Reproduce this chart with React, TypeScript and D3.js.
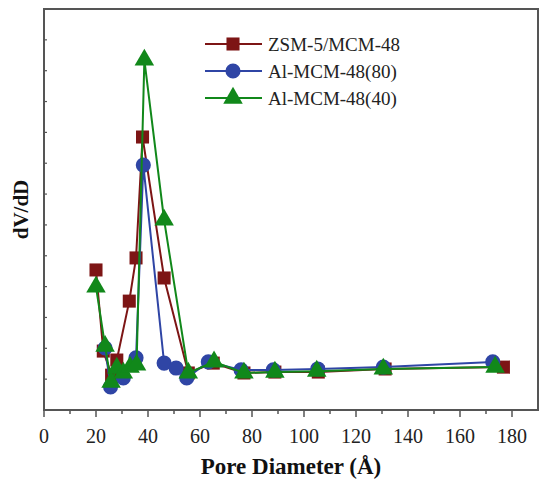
import React from 'react';
import * as d3 from 'd3';

// pore diameter (Å) and dV/dD (arbitrary units)
const zsmX = [20.0, 22.8, 26.0, 28.0, 32.8, 35.4, 37.9, 46.2, 55.5, 65.1, 76.9, 88.8, 105.5, 131.2, 176.7];
const zsmY = [4.54, 1.91, 1.13, 1.62, 3.53, 4.93, 8.85, 4.28, 1.2, 1.52, 1.2, 1.23, 1.23, 1.33, 1.39];

const al80X = [23.5, 25.6, 30.5, 35.4, 38.2, 46.2, 50.8, 54.9, 63.2, 75.8, 88.2, 105.3, 130.5, 172.6];
const al80Y = [2.01, 0.75, 1.04, 1.69, 7.94, 1.52, 1.36, 1.04, 1.56, 1.3, 1.3, 1.33, 1.39, 1.56];

const al40X = [20.0, 23.5, 25.8, 28.0, 30.5, 33.1, 35.6, 38.6, 46.2, 55.5, 65.4, 76.9, 88.8, 104.9, 130.5, 173.5];
const al40Y = [3.99, 2.07, 0.9, 1.36, 1.2, 1.39, 1.46, 11.35, 6.16, 1.2, 1.56, 1.2, 1.23, 1.26, 1.33, 1.39];

const seriesNames = ['ZSM-5/MCM-48', 'Al-MCM-48(80)', 'Al-MCM-48(40)'];
const xTicks = [0, 20, 40, 60, 80, 100, 120, 140, 160, 180];

const W = 539, H = 481;
const margin = { top: 9, right: 1, bottom: 71, left: 44 };
const font = '"Liberation Serif", "Times New Roman", serif';
const axisColor = '#555';

const series = [
  { name: seriesNames[0], xs: zsmX, ys: zsmY, color: '#7d1515', symbol: d3.symbolSquare, size: 170 },
  { name: seriesNames[1], xs: al80X, ys: al80Y, color: '#2f45a5', symbol: d3.symbolCircle, size: 180 },
  { name: seriesNames[2], xs: al40X, ys: al40Y, color: '#11881a', symbol: d3.symbolTriangle, size: 165 },
];

export default function App() {
  const x = d3.scaleLinear().domain([0, 190]).range([margin.left, W - margin.right]);
  const y = d3.scaleLinear().domain([0, 13]).range([H - margin.bottom, margin.top]);
  const minor = d3.range(10, 190, 20);
  const yTicks = d3.range(1, 13);

  const line = d3.line<[number, number]>()
    .x(d => x(d[0]))
    .y(d => y(d[1]));

  const x0 = x(0), x1 = x(190), y0 = y(0), y1 = y(13);

  return (
    <svg width={W} height={H} style={{ position: 'absolute', left: 0, top: 0, background: '#fff' }}
      fontFamily={font}>
      {/* series */}
      {series.map(s => {
        const pts = s.xs.map((v, i) => [v, s.ys[i]] as [number, number]);
        const sym = d3.symbol().type(s.symbol).size(s.size)();
        return (
          <g key={s.name}>
            <path d={line(pts) || ''} fill="none" stroke={s.color} strokeWidth={2} />
            {pts.map((p, i) => (
              <path key={i} d={sym || ''} transform={`translate(${x(p[0])},${y(p[1])})`} fill={s.color} />
            ))}
          </g>
        );
      })}

      {/* frame */}
      <rect x={x0} y={y1} width={x1 - x0} height={y0 - y1} fill="none" stroke={axisColor} strokeWidth={2} />

      {/* x ticks */}
      {xTicks.map(t => (
        <g key={t}>
          <line x1={x(t)} x2={x(t)} y1={y0} y2={y0 + 7} stroke={axisColor} strokeWidth={1.5} />
          <text x={x(t)} y={y0 + 33} textAnchor="middle" fontSize={20} fill="#222">{t}</text>
        </g>
      ))}
      {minor.map(t => (
        <line key={t} x1={x(t)} x2={x(t)} y1={y0} y2={y0 + 4} stroke={axisColor} strokeWidth={1.5} />
      ))}
      {/* y ticks, no labels */}
      {yTicks.map(t => (
        <line key={t} x1={x0} x2={x0 + 3} y1={y(t)} y2={y(t)} stroke={axisColor} strokeWidth={1.2} />
      ))}

      {/* axis titles */}
      <text x={(x0 + x1) / 2} y={474} textAnchor="middle" fontSize={23} fontWeight="bold" fill="#111">
        Pore Diameter (Å)
      </text>
      <text transform={`translate(28,${(y0 + y1) / 2}) rotate(-90)`} textAnchor="middle" fontSize={21}
        fontWeight="bold" fill="#111">dV/dD</text>

      {/* legend */}
      {series.map((s, i) => {
        const ly = 44 + i * 27;
        const sym = d3.symbol().type(s.symbol).size(s.size)();
        return (
          <g key={s.name}>
            <line x1={205} x2={262} y1={ly} y2={ly} stroke={s.color} strokeWidth={2} />
            <path d={sym || ''} transform={`translate(233,${ly})`} fill={s.color} />
            <text x={268} y={ly + 7} fontSize={19} fill="#222">{s.name}</text>
          </g>
        );
      })}
    </svg>
  );
}
